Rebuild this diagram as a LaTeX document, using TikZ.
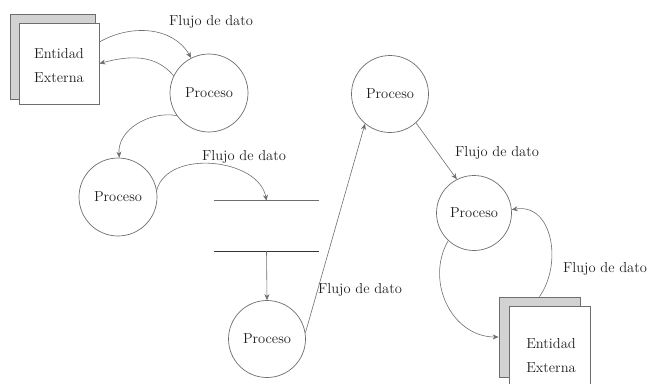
\documentclass[tikz,border=0pt]{standalone}
\usetikzlibrary{arrows.meta}
\definecolor{lineg}{HTML}{6E6E6E}
\definecolor{shadowg}{HTML}{D2D2D2}
\definecolor{txt}{HTML}{1E1E1E}
\begin{document}
\begin{tikzpicture}[x=1pt,y=-1pt,
  every node/.style={font=\fontsize{14.5}{24}\selectfont, text=txt, inner sep=0pt},
  proc/.style={circle, draw=lineg, line width=0.7pt, fill=white, minimum size=#1},
  proc/.default=78pt,
  front/.style={rectangle, draw=lineg, line width=0.8pt, fill=white},
  shad/.style={rectangle, draw=lineg, line width=0.8pt, fill=shadowg},
  etext/.style={align=center},
  flow/.style={draw=lineg, line width=0.6pt, -{Stealth[length=6pt,width=5pt]}},
  lbl/.style={}]
\useasboundingbox (0,0) rectangle (650,383);
\clip (0,0) rectangle (650,383);

% entity 1
\node[shad, minimum width=85pt, minimum height=85pt] (ent1s) at (52.5,56.5) {};
\node[front, minimum width=80pt, minimum height=81pt] (ent1) at (59,63.5) {};
\node[etext] (ent1t) at (59,65.5) {Entidad\\Externa};

% entity 2
\node[shad, minimum width=81pt, minimum height=80pt] (ent2s) at (539.5,337) {};
\node[front, minimum width=81pt, minimum height=98pt] (ent2) at (549.5,355) {};
\node[etext] (ent2t) at (551,355.5) {Entidad\\Externa};

% processes
\node[proc] (p1) at (209,93) {Proceso};
\node[proc] (p2) at (118,197) {Proceso};
\node[proc=77pt] (p3) at (267,339) {Proceso};
\node[proc=77pt] (p4) at (390,94) {Proceso};
\node[proc=75pt] (p5) at (474,213) {Proceso};

% data store
\node[minimum width=105pt, minimum height=50pt] (store) at (266.5,226) {};
\draw[lineg, line width=0.8pt] (store.north west) -- (store.north east);
\draw[black!80, line width=1pt] (store.south west) -- (store.south east);

% labels
\node[lbl] (l1) at (211,22) {Flujo de dato};
\node[lbl] (l2) at (244,157) {Flujo de dato};
\node[lbl] (l3) at (360,290) {Flujo de dato};
\node[lbl] (l4) at (497,153) {Flujo de dato};
\node[lbl] (l5) at (605,269) {Flujo de dato};

% flows
\draw[flow] (ent1.28) to[out=30, in=120] (p1.117);
\draw[flow] (p1.154) to[out=130, in=15] (ent1.east);
\draw[flow] (p1.215) to[out=170, in=95] (p2.88);
\draw[flow] (p2.10) to[out=75, in=100] (store.north);
\draw[flow] (store.south) -- (p3.north);
\draw[flow] (p3.9) -- (p4.230);
\draw[flow] (p4.312) -- (p5.117);
\draw[flow] (ent2s.north) to[out=55, in=10, looseness=1.15] (p5.5);
\draw[flow] (p5.227) to[out=240, in=180, looseness=1.1] (ent2s.west);
\end{tikzpicture}
\end{document}
